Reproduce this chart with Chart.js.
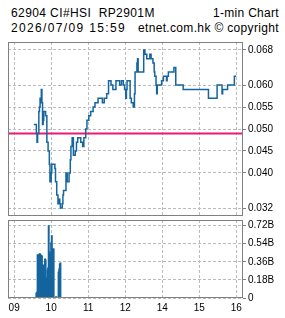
<!DOCTYPE html>
<html lang="en">
<head>
<meta charset="UTF-8">
<title>62904 CI#HSI RP2901M 1-min Chart</title>
<style>
  html, body { margin: 0; padding: 0; background: #fff; }
  body { width: 285px; height: 318px; position: relative; overflow: hidden; font-family: "Liberation Sans", Arial, sans-serif; }
  .txt { position: absolute; font-size: 12px; line-height: 12px; white-space: pre; color: #000; }
  canvas { position: absolute; left: 0; top: 0; }
</style>
</head>
<body>
  <div class="txt" style="left:11px;top:6.5px;letter-spacing:0.4px">62904 CI#HSI  RP2901M</div>
  <div class="txt" style="right:6px;top:6.5px;letter-spacing:0.3px">1-min Chart</div>
  <div class="txt" style="left:11px;top:21.5px;letter-spacing:1.35px">2026/07/09 15:59</div>
  <div class="txt" style="right:6px;top:21.5px;letter-spacing:0.34px">etnet.com.hk © copyright</div>
  <canvas id="priceChart" width="285" height="318"></canvas>
  <canvas id="volChart" width="285" height="318"></canvas>

<script src="https://cdn.jsdelivr.net/npm/chart.js"></script>
<script>
    // price change points (1-min closes), prev close line
    const priceTimes = ["09:32","09:36","09:37","09:38","09:40","09:41","09:42","09:43","09:44","09:45",
        "09:46","09:47","09:48","09:51","09:53","09:55","09:57","09:58","10:00","10:01",
        "10:06","10:07","10:09","10:11","10:13","10:14","10:15","10:18","10:19","10:20",
        "10:24","10:26","10:29","10:31","10:32","10:34","10:36","10:39","10:41","10:43",
        "10:48","10:51","10:53","10:56","10:58","11:01","11:04","11:08","11:11","11:16",
        "11:23","11:26","11:30","11:33","11:37","11:40","11:45","11:51","11:54","11:57",
        "11:59","13:01","13:02","13:03","13:08","13:10","13:13","13:15","13:16","13:19",
        "13:20","13:21","13:30","13:32","13:35","13:40","13:42","13:45","13:47","13:48",
        "13:50","13:51","13:52","13:59","14:02","14:07","14:08","14:10","14:19","14:22",
        "14:34","15:15","15:29","15:37","15:38","15:46","15:57","16:00"];
    const priceValues = [0.051,0.049,0.047,0.049,0.054,0.055,0.057,0.056,0.059,0.056,
        0.051,0.052,0.054,0.053,0.047,0.045,0.042,0.038,0.040,0.042,
        0.041,0.038,0.035,0.033,0.034,0.033,0.032,0.033,0.035,0.036,
        0.040,0.038,0.040,0.043,0.046,0.048,0.044,0.045,0.047,0.048,
        0.047,0.046,0.048,0.050,0.052,0.053,0.054,0.055,0.056,0.057,
        0.056,0.057,0.058,0.061,0.060,0.059,0.061,0.060,0.061,0.060,
        0.059,0.057,0.059,0.061,0.057,0.056,0.055,0.058,0.063,0.065,
        0.066,0.063,0.068,0.067,0.066,0.067,0.066,0.065,0.063,0.062,
        0.060,0.058,0.060,0.061,0.062,0.061,0.062,0.063,0.064,0.060,
        0.059,0.057,0.060,0.058,0.059,0.060,0.062,0.062];
    const prevClose = 0.049;
    const priceTicks = [0.032, 0.040, 0.045, 0.050, 0.055, 0.060, 0.068];

    // turnover per minute, in billions
    const volTimes = ["09:36","09:37","09:38","09:39","09:40","09:41","09:42","09:43","09:44","09:45",
        "09:46","09:47","09:48","09:49","09:50","09:51","09:52","09:53","09:54","09:55",
        "09:56","09:57","09:58","09:59","10:00","10:01","10:02","10:03","10:04","10:08",
        "10:12","10:13","10:14","10:15"];
    const volValues = [0.05,0.06,0.43,0.43,0.42,0.44,0.44,0.43,0.42,0.42,
        0.26,0.33,0.21,0.20,0.39,0.38,0.20,0.19,0.28,0.30,
        0.72,0.46,0.42,0.45,0.55,0.62,0.49,0.44,0.49,0.015,
        0.26,0.29,0.34,0.35];
    const volTicks = [0, 0.18, 0.36, 0.54, 0.72];

    const hourTicks = [0, 60, 120, 180, 240, 300, 360];

    const BLUE = '#15659f';
    const RED = '#ea1a78';
    const GRID = '#bcbcbc';
    const FRAME = '#808080';
    const X_MIN = -10, X_MAX = 371;
    const tickFont = { family: '"Liberation Sans", Arial, sans-serif', size: 10 };

    // minutes since 09:00 with the lunch hour cut out
    function tradeMin(t) {
        const [h, m] = t.split(':').map(Number);
        let v = h * 60 + m - 540;
        if (h >= 13) v -= 60;
        return v;
    }
    function hourLabel(v) {
        const h = v <= 180 ? 9 + v / 60 : 10 + v / 60;
        return String(h).padStart(2, '0');
    }

    const frame = {
        id: 'frame',
        afterDraw(chart) {
            const { ctx, chartArea: a } = chart;
            ctx.save();
            ctx.strokeStyle = FRAME;
            ctx.lineWidth = 1;
            ctx.strokeRect(a.left + 0.5, a.top + 0.5, a.right - a.left - 1, a.bottom - a.top - 1);
            ctx.restore();
        }
    };

    const xBase = {
        type: 'linear', min: X_MIN, max: X_MAX, offset: false,
        afterBuildTicks: s => { s.ticks = hourTicks.map(v => ({ value: v })); },
        grid: { color: GRID, drawTicks: false, offset: false },
        border: { display: false, dash: [3, 2] }
    };

    new Chart(document.getElementById('priceChart'), {
        type: 'line',
        data: {
            datasets: [{
                data: [{ x: X_MIN, y: prevClose }, { x: X_MAX, y: prevClose }],
                borderColor: RED, borderWidth: 2, pointRadius: 0, order: 2
            }, {
                data: priceTimes.map((t, i) => ({ x: tradeMin(t), y: priceValues[i] })),
                borderColor: BLUE, borderWidth: 1.5, stepped: true, pointRadius: 0, order: 1
            }]
        },
        options: {
            responsive: false, animation: false,
            layout: { padding: { left: 8, top: 42, right: 0, bottom: 102 } },
            plugins: { legend: { display: false }, tooltip: { enabled: false } },
            scales: {
                x: Object.assign({}, xBase, {
                    ticks: { display: false },
                    afterFit: s => { s.height = 0; }
                }),
                y: {
                    position: 'right', min: 0.0302, max: 0.0698,
                    afterBuildTicks: s => { s.ticks = priceTicks.map(v => ({ value: v })); },
                    ticks: { font: tickFont, color: '#000', padding: 2, callback: v => v.toFixed(3) },
                    grid: { color: GRID, tickColor: FRAME, tickLength: 3 },
                    border: { display: false, dash: [3, 2] },
                    afterFit: s => { s.width = 42; }
                }
            }
        },
        plugins: [frame]
    });

    new Chart(document.getElementById('volChart'), {
        type: 'bar',
        data: {
            datasets: [{
                data: volTimes.map((t, i) => ({ x: tradeMin(t), y: volValues[i] })),
                backgroundColor: BLUE, borderWidth: 0, barThickness: 1.3
            }]
        },
        options: {
            responsive: false, animation: false,
            layout: { padding: { left: 8, top: 220, right: 0, bottom: 0 } },
            plugins: { legend: { display: false }, tooltip: { enabled: false } },
            scales: {
                x: Object.assign({}, xBase, {
                    ticks: { font: tickFont, color: '#000', padding: 4, maxRotation: 0, autoSkip: false, callback: hourLabel },
                    afterFit: s => { s.height = 20; }
                }),
                y: {
                    position: 'right', min: 0, max: 0.775,
                    afterBuildTicks: s => { s.ticks = volTicks.map(v => ({ value: v })); },
                    ticks: { font: tickFont, color: '#000', padding: 2, callback: v => v === 0 ? '0' : v.toFixed(2) + 'B' },
                    grid: { color: GRID, tickColor: FRAME, tickLength: 3 },
                    border: { display: false, dash: [3, 2] },
                    afterFit: s => { s.width = 42; }
                }
            }
        },
        plugins: [frame]
    });
</script>
</body>
</html>
